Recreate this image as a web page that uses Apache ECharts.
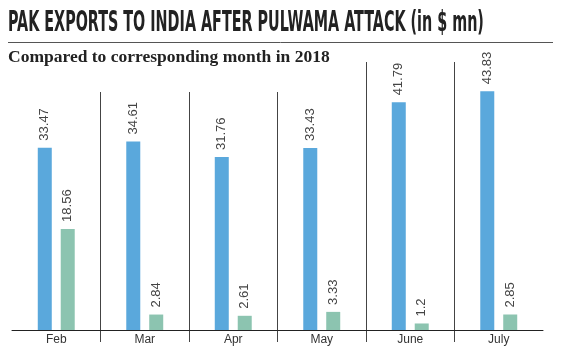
<!DOCTYPE html>
<html>
<head>
<meta charset="utf-8">
<script src="https://cdn.jsdelivr.net/npm/echarts@6/dist/echarts.min.js"></script>
<style>
html, body { margin: 0; padding: 0; background: #fff; }
#main { width: 561px; height: 353px; }
</style>
</head>
<body>
<div id="main"></div>
<script>
// 月份
var months = ['Feb', 'Mar', 'Apr', 'May', 'June', 'July'];
// 2018 年同月出口 (蓝色)
var exports2018 = [33.47, 34.61, 31.76, 33.43, 41.79, 43.83];
// 2019 年普尔瓦马袭击后出口 (绿色)
var exports2019 = [18.56, 2.84, 2.61, 3.33, 1.2, 2.85];

var chart = echarts.init(document.getElementById('main'));

var barLabel = {
    show: true,
    position: 'top',
    rotate: 90,
    align: 'left',
    verticalAlign: 'middle',
    distance: 7,
    fontSize: 13,
    fontFamily: 'Liberation Sans',
    color: '#444'
};

var option = {
    animation: false,
    graphic: [
        {
            type: 'text',
            x: 8,
            y: 9,
            scaleX: 0.55,
            style: {
                text: 'PAK EXPORTS TO INDIA AFTER PULWAMA ATTACK (in $ mn)',
                font: 'bold 29px "DejaVu Sans Condensed"',
                fill: '#222',
                textVerticalAlign: 'top'
            }
        },
        {
            type: 'line',
            shape: { x1: 8, y1: 42.5, x2: 553, y2: 42.5 },
            style: { stroke: '#555', lineWidth: 1 }
        },
        {
            type: 'text',
            x: 8,
            y: 48,
            style: {
                text: 'Compared to corresponding month in 2018',
                font: 'bold 17.5px "Liberation Serif"',
                fill: '#222',
                textVerticalAlign: 'top'
            }
        }
    ],
    // 两个网格: 一个画柱子和右侧分隔线, 一个画左侧较短的分隔线
    grid: [
        { left: 12, width: 531, top: 62, bottom: 11, outerBoundsMode: 'none', containLabel: false },
        { left: 12, width: 531, top: 92, bottom: 11, outerBoundsMode: 'none', containLabel: false }
    ],
    xAxis: [
        {
            type: 'category',
            gridIndex: 0,
            data: months,
            axisLine: { onZero: true, lineStyle: { color: '#222', width: 1 } },
            axisTick: { show: false },
            axisLabel: { color: '#333', fontSize: 12, margin: -8, fontFamily: 'Liberation Sans' },
            splitLine: {
                show: true,
                interval: function (i) { return i >= 4; },
                showMaxLine: false,
                lineStyle: { color: '#444', width: 1 }
            }
        },
        {
            type: 'category',
            gridIndex: 1,
            data: months,
            axisLine: { show: false },
            axisTick: { show: false },
            axisLabel: { show: false },
            splitLine: {
                show: true,
                interval: function (i) { return i >= 1 && i <= 3; },
                showMaxLine: false,
                lineStyle: { color: '#444', width: 1 }
            }
        }
    ],
    yAxis: [
        { type: 'value', gridIndex: 0, min: -2.2, max: 49.2, show: false },
        { type: 'value', gridIndex: 1, min: 0, max: 1, show: false }
    ],
    series: [
        {
            name: '2018',
            type: 'bar',
            xAxisIndex: 0,
            yAxisIndex: 0,
            data: exports2018,
            barWidth: 14,
            barGap: '64%',
            itemStyle: { color: '#5aa8dc' },
            label: barLabel
        },
        {
            name: '2019',
            type: 'bar',
            xAxisIndex: 0,
            yAxisIndex: 0,
            data: exports2019,
            barWidth: 14,
            barGap: '64%',
            itemStyle: { color: '#8cc4b0' },
            label: barLabel
        }
    ]
};

chart.setOption(option);
</script>
</body>
</html>
